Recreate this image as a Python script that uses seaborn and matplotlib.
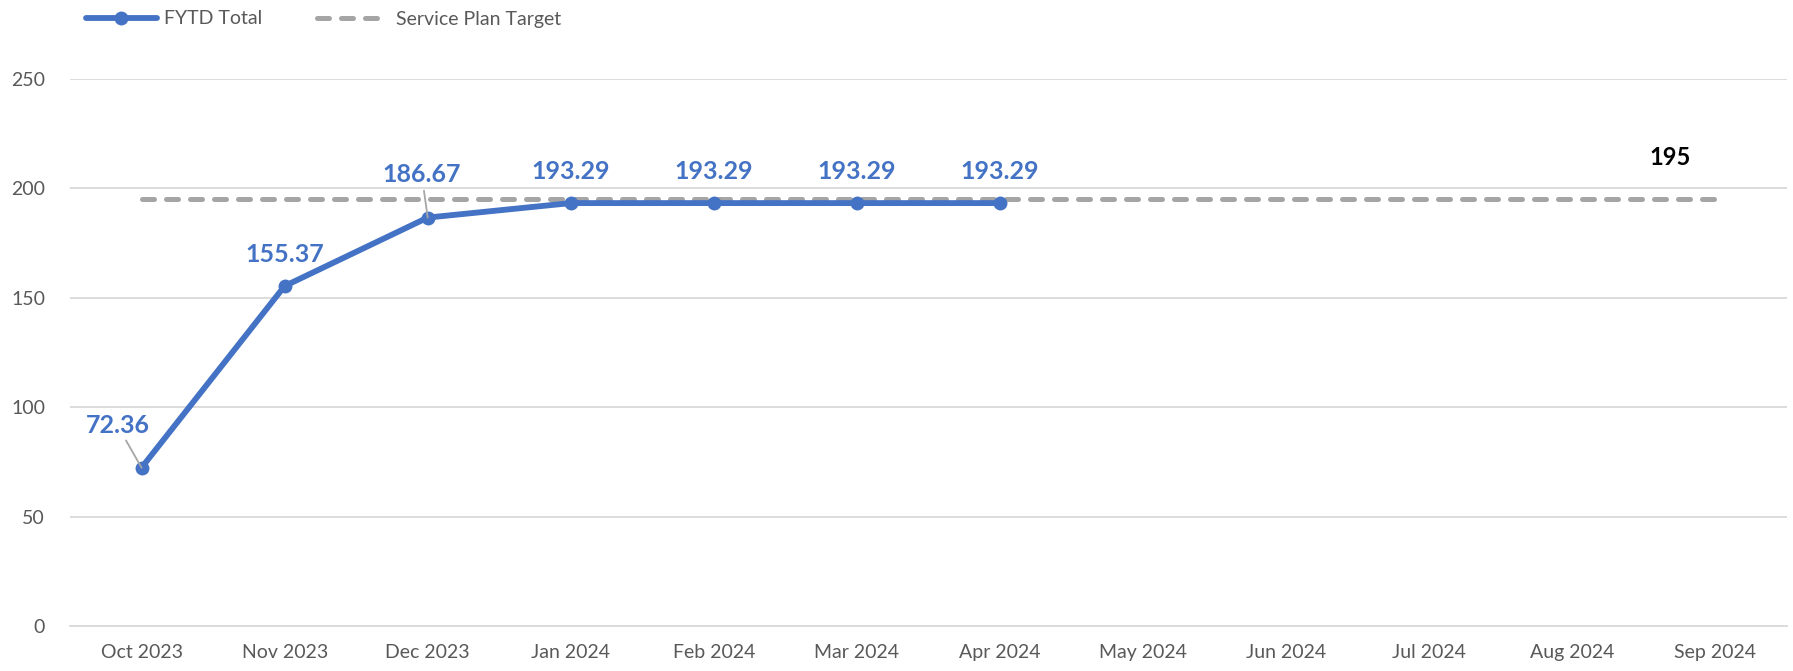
import matplotlib
matplotlib.use("Agg")
import matplotlib.pyplot as plt
import seaborn as sns
import pandas as pd
import numpy as np

months = ["Oct 2023", "Nov 2023", "Dec 2023", "Jan 2024", "Feb 2024", "Mar 2024",
          "Apr 2024", "May 2024", "Jun 2024", "Jul 2024", "Aug 2024", "Sep 2024"]
fytd_total = [72.36, 155.37, 186.67, 193.29, 193.29, 193.29, 193.29]
target = [195] * 12
y_ticks = [0, 50, 100, 150, 200, 250]

sns.set_theme(style="white")
plt.rcParams['font.family'] = ['Lato', 'DejaVu Sans']

BLUE = "#4472C4"
GRAY = "#A5A5A5"

fig = plt.figure(figsize=(17.93, 6.71), dpi=100)
ax = fig.add_axes([70/1793, 1-626/671, 1717/1793, (626-79)/671])

df_t = pd.DataFrame({"pos": np.arange(len(target)) + 0.5, "val": target})
df_f = pd.DataFrame({"pos": np.arange(len(fytd_total)) + 0.5, "val": fytd_total})

sns.lineplot(data=df_t, x="pos", y="val", ax=ax, color=GRAY, linewidth=3.6,
             linestyle=(0, (2.4, 2.4)), dash_capstyle="round", label="Service Plan Target", zorder=2)
sns.lineplot(data=df_f, x="pos", y="val", ax=ax, color=BLUE, linewidth=4.2,
             marker="o", markersize=10, markeredgewidth=0, label="FYTD Total", zorder=3)

ax.set_xlim(0, 12)
ax.set_ylim(0, 250)
ax.set_yticks(y_ticks)
ax.set_yticklabels([str(v) for v in y_ticks], fontsize=14, color="#595959")
ax.set_xticks(np.arange(12) + 0.5)
ax.set_xticklabels(months, fontsize=14, color="#595959")
ax.set_xticks(np.arange(13), minor=True)
ax.tick_params(axis="x", which="major", length=0, pad=13)
ax.tick_params(axis="x", which="minor", length=7, color="#D9D9D9", width=1.2, direction="out")
ax.tick_params(axis="y", length=0, pad=18)
ax.set_xlabel("")
ax.set_ylabel("")
ax.yaxis.grid(True, color="#D9D9D9", linewidth=1.3)
ax.set_axisbelow(True)
for s in ["top", "right", "left"]:
    ax.spines[s].set_visible(False)
ax.spines["bottom"].set_color("#D9D9D9")
ax.spines["bottom"].set_linewidth(1.3)

# data labels
for i, v in enumerate(fytd_total):
    x = i + 0.5
    if i == 0:
        ax.annotate(f"{v:.2f}", xy=(x, v), xytext=(-24, 42), textcoords="offset pixels",
                    ha="center", va="center", fontsize=18, fontweight="bold", color=BLUE,
                    arrowprops=dict(arrowstyle="-", color="#A6A6A6", lw=1.3,
                                    shrinkA=0, shrinkB=0))
    elif i == 2:
        ax.annotate(f"{v:.2f}", xy=(x, v), xytext=(-6, 43), textcoords="offset pixels",
                    ha="center", va="center", fontsize=18, fontweight="bold", color=BLUE,
                    arrowprops=dict(arrowstyle="-", color="#A6A6A6", lw=1.3,
                                    shrinkA=1, shrinkB=0))
    else:
        ax.annotate(f"{v:.2f}", xy=(x, v), xytext=(0, 32), textcoords="offset pixels",
                    ha="center", va="center", fontsize=18, fontweight="bold", color=BLUE)

ax.annotate(f"{target[-1]}", xy=(11.5, target[-1]), xytext=(-45, 42), textcoords="offset pixels",
            ha="center", va="center", fontsize=17, fontweight="bold", color="black")

ax.get_legend().remove()
h, l = ax.get_legend_handles_labels()
order = [l.index("FYTD Total"), l.index("Service Plan Target")]
fig.legend([h[k] for k in order], [l[k] for k in order], loc="center left",
           bbox_to_anchor=(68/1793, 1-19/671), ncol=2, frameon=False, fontsize=14,
           handlelength=3.7, handletextpad=0.35, columnspacing=2.8, labelcolor="#595959")

fig.savefig("out.png", dpi=100)
